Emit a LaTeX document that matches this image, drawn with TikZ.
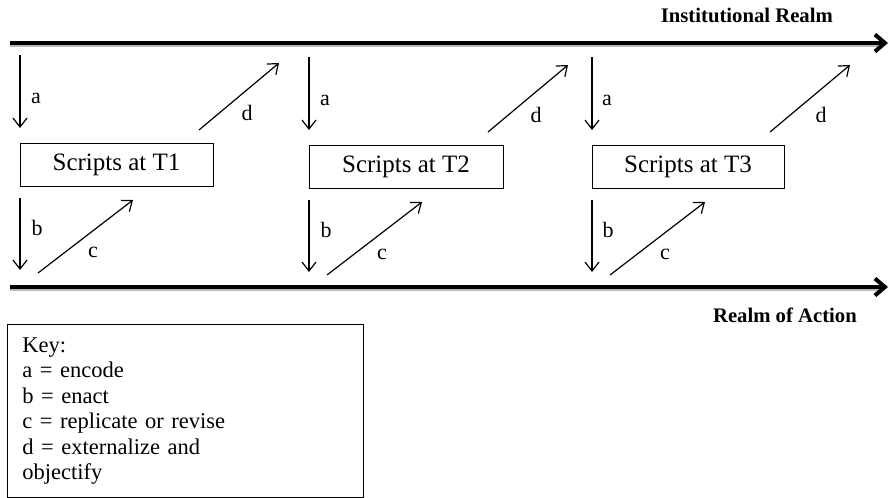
\documentclass[tikz,border=0pt]{standalone}
\usepackage{fontspec}
\setmainfont{Liberation Serif}
\usetikzlibrary{arrows.meta}

\begin{document}
\begin{tikzpicture}[x=1pt, y=-1pt,
    realm/.style={line width=4pt, -{Straight Barb[length=10pt, width=17pt]}},
    shadowline/.style={line width=2pt, gray!55},
    flow/.style={line width=1.2pt, -{Straight Barb[length=9pt, width=14pt]}},
    script/.style={draw, rectangle, line width=0.8pt, minimum height=43pt, inner sep=0pt, font=\fontsize{25}{30}\selectfont},
    lbl/.style={inner sep=0pt, font=\fontsize{22}{26}\selectfont},
    title/.style={inner sep=0pt, font=\fontsize{20.7}{25}\selectfont\bfseries}]

    \useasboundingbox (0,0) rectangle (889,498);

    \node (inst) [title, anchor=base east] at (833,22) {Institutional Realm};
    \node (action) [title, anchor=base east] at (857,322) {Realm of Action};

    \coordinate (top-start) at (10,43);
    \coordinate (top-end) at (888,43);
    \coordinate (bot-start) at (10,287);
    \coordinate (bot-end) at (888,287);

    \draw[shadowline] ([yshift=-3pt]top-start) -- ([xshift=-6pt, yshift=-3pt]top-end);
    \draw[shadowline] ([yshift=-3pt]bot-start) -- ([xshift=-6pt, yshift=-3pt]bot-end);
    \draw[realm] (top-start) -- (top-end);
    \draw[realm] (bot-start) -- (bot-end);

    \node (s1) [script, minimum width=193pt] at (116.5,164.5) {Scripts at T1};
    \node (s2) [script, minimum width=194pt] at (406,166.5) {Scripts at T2};
    \node (s3) [script, minimum width=192pt] at (688,166.5) {Scripts at T3};

    \coordinate (a1s) at (20,55);   \coordinate (a1e) at (20,128);
    \coordinate (b1s) at (20,198);  \coordinate (b1e) at (20,270);
    \coordinate (c1s) at (38,273);  \coordinate (c1e) at (133,200);
    \coordinate (d1s) at (199,130); \coordinate (d1e) at (279,63);

    \coordinate (a2s) at (309,57);  \coordinate (a2e) at (309,130);
    \coordinate (b2s) at (309,200); \coordinate (b2e) at (309,272);
    \coordinate (c2s) at (327,275); \coordinate (c2e) at (422,202);
    \coordinate (d2s) at (488,132); \coordinate (d2e) at (568,65);

    \coordinate (a3s) at (592,57);  \coordinate (a3e) at (592,130);
    \coordinate (b3s) at (592,200); \coordinate (b3e) at (592,272);
    \coordinate (c3s) at (610,275); \coordinate (c3e) at (705,202);
    \coordinate (d3s) at (770,132); \coordinate (d3e) at (850,65);

    \draw[flow] (a1s) -- (a1e);
    \draw[flow] (b1s) -- (b1e);
    \draw[flow] (c1s) -- (c1e);
    \draw[flow] (d1s) -- (d1e);
    \draw[flow] (a2s) -- (a2e);
    \draw[flow] (b2s) -- (b2e);
    \draw[flow] (c2s) -- (c2e);
    \draw[flow] (d2s) -- (d2e);
    \draw[flow] (a3s) -- (a3e);
    \draw[flow] (b3s) -- (b3e);
    \draw[flow] (c3s) -- (c3e);
    \draw[flow] (d3s) -- (d3e);

    \node (la1) [lbl] at (36,98) {a};
    \node (lb1) [lbl] at (37,228) {b};
    \node (lc1) [lbl] at (93,252) {c};
    \node (ld1) [lbl] at (247,113) {d};
    \node (la2) [lbl] at (325,100) {a};
    \node (lb2) [lbl] at (326,230) {b};
    \node (lc2) [lbl] at (382,254) {c};
    \node (ld2) [lbl] at (536,115) {d};
    \node (la3) [lbl] at (607,100) {a};
    \node (lb3) [lbl] at (608,230) {b};
    \node (lc3) [lbl] at (665,254) {c};
    \node (ld3) [lbl] at (821,115) {d};

    \node (key) [draw, line width=0.8pt, anchor=north west, text width=326pt, inner xsep=15pt, minimum height=173pt, align=left, font=\fontsize{22.5}{25.5}\selectfont] at (7,324) {Key:\\a = encode\\b = enact\\c = replicate or revise\\d = externalize and\\objectify};
\end{tikzpicture}
\end{document}
